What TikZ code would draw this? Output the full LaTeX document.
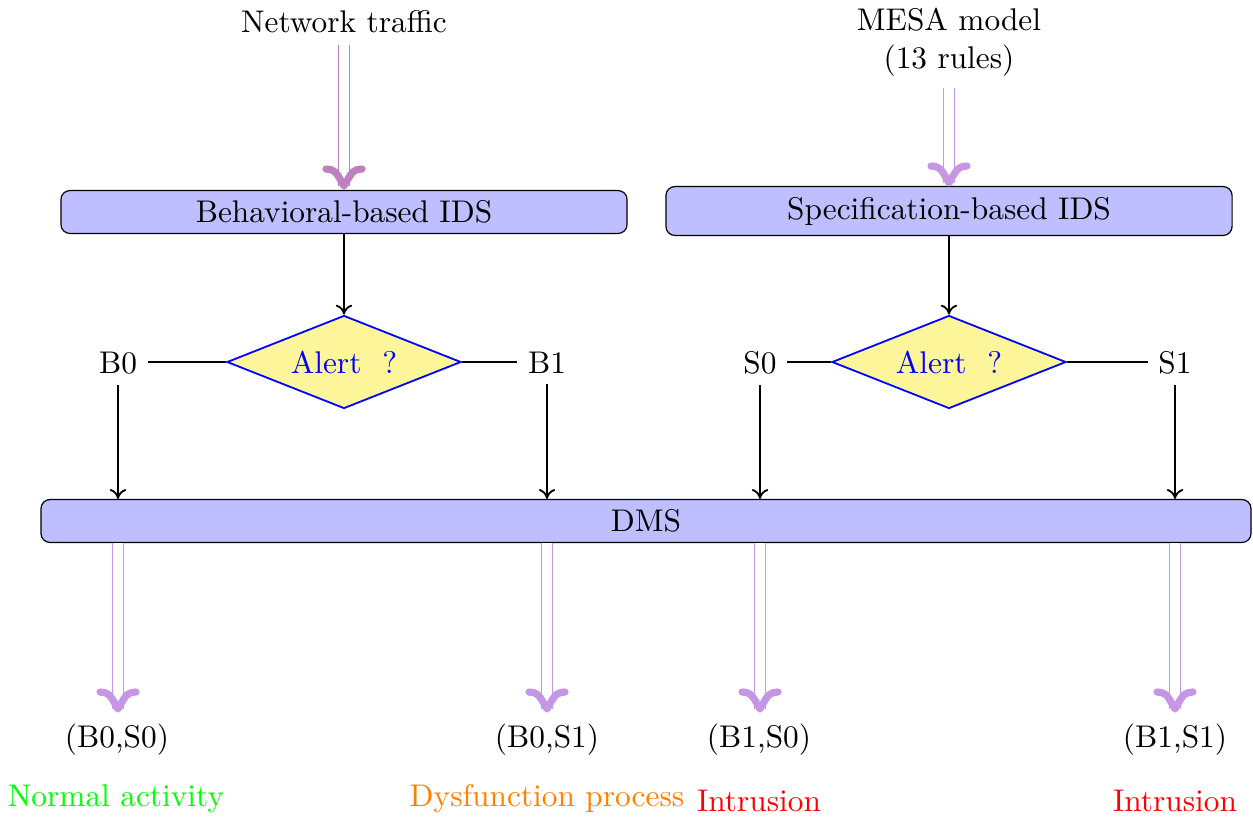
\documentclass[tikz,border=0pt]{standalone}
\usetikzlibrary{shapes.geometric,arrows.meta,calc}
\definecolor{arrA}{HTML}{BF80BF}
\definecolor{arrB}{HTML}{C496E4}
\definecolor{boxfill}{HTML}{BFBFFF}
\definecolor{dfill}{HTML}{FDF59A}
\begin{document}
\begin{tikzpicture}[x=0.3333pt,y=-0.3333pt,
  every node/.style={font=\fontsize{10.45}{12.6}\selectfont},
  idsbox/.style={draw, fill=boxfill, rounded corners=3pt, line width=0.4pt, inner sep=0pt},
  decision/.style={diamond, draw=blue, fill=dfill, semithick, text=blue, aspect=2.5,
    minimum width=78pt, minimum height=31pt, inner sep=0pt},
  lbl/.style={inner sep=0.3333em},
  conn/.style={semithick},
  arr/.style={semithick, -{To[length=3.3pt,width=5.5pt]}},
  dbl/.style={draw=#1, line width=0.35pt, double=white, double distance=3.1pt},
  chev/.style={draw=#1, line width=2.4pt, line cap=round, line join=round}]
\useasboundingbox (0,0) rectangle (1253,818);

% sources
\node[lbl] (nt) at (344,22) {Network traffic};
\node[lbl, align=center] (mesa) at (949,42) {MESA model\\(13 rules)};

% IDS boxes
\node[idsbox, minimum width=188.7pt, minimum height=14.3pt] (bids) at (344,212) {Behavioral-based IDS};
\node[idsbox, minimum width=188.7pt, minimum height=16.3pt] (sids) at (949,211) {Specification-based IDS};

% decisions
\node[decision] (d1) at (344,362) {Alert\ \ ?};
\node[decision] (d2) at (949,362) {Alert\ \ ?};

% outcome labels
\node[lbl] (b0) at (118,363) {B0};
\node[lbl] (b1) at (547,363) {B1};
\node[lbl] (s0) at (760,363) {S0};
\node[lbl] (s1) at (1175,363) {S1};

% DMS
\node[idsbox, minimum width=403.3pt, minimum height=14.3pt] (dms) at (646,521) {DMS};

% results
\node[lbl] (r1) at (117,740) {(B0,S0)};
\node[lbl] (r2) at (547,740) {(B0,S1)};
\node[lbl] (r3) at (759,740) {(B1,S0)};
\node[lbl] (r4) at (1175,740) {(B1,S1)};
\node[lbl, text=green] (c1) at (116,799) {Normal activity};
\node[lbl, text=orange] (c2) at (547,799) {Dysfunction process};
\node[lbl, text=red] (c3) at (759,801) {Intrusion};
\node[lbl, text=red] (c4) at (1175,801) {Intrusion};

% tip coordinates
\coordinate (t0) at (344,186);
\coordinate (tm) at (949,183);
\coordinate (t1) at (118,709);
\coordinate (t2) at (547,709);
\coordinate (t3) at (760,709);
\coordinate (t4) at (1175,709);

% double arrows
\draw[dbl=arrA] (344,45) -- (t0);
\draw[dbl=arrB] (949,88) -- (tm);
\foreach \t in {t1,t2,t3,t4}{
  \draw[dbl=arrB] (\t |- dms.south) -- (\t);
}
\draw[chev=arrA] ($(t0)+(-18,-17)$) .. controls ($(t0)+(-9,-16)$) .. (t0) .. controls ($(t0)+(9,-16)$) .. ($(t0)+(18,-17)$);
\foreach \t in {tm,t1,t2,t3,t4}{
  \draw[chev=arrB] ($(\t)+(-18,-17)$) .. controls ($(\t)+(-9,-16)$) .. (\t) .. controls ($(\t)+(9,-16)$) .. ($(\t)+(18,-17)$);
}

% black connectors
\draw[arr] (bids.south) -- (d1.north);
\draw[arr] (sids.south) -- (d2.north);
\draw[conn] (d1.west) -- (d1.west -| b0.east);
\draw[conn] (d1.east) -- (d1.east -| b1.west);
\draw[conn] (d2.west) -- (d2.west -| s0.east);
\draw[conn] (d2.east) -- (d2.east -| s1.west);
\foreach \n in {b0,b1,s0,s1}{
  \draw[arr] (\n.south) -- (\n |- dms.north);
}
\end{tikzpicture}
\end{document}
